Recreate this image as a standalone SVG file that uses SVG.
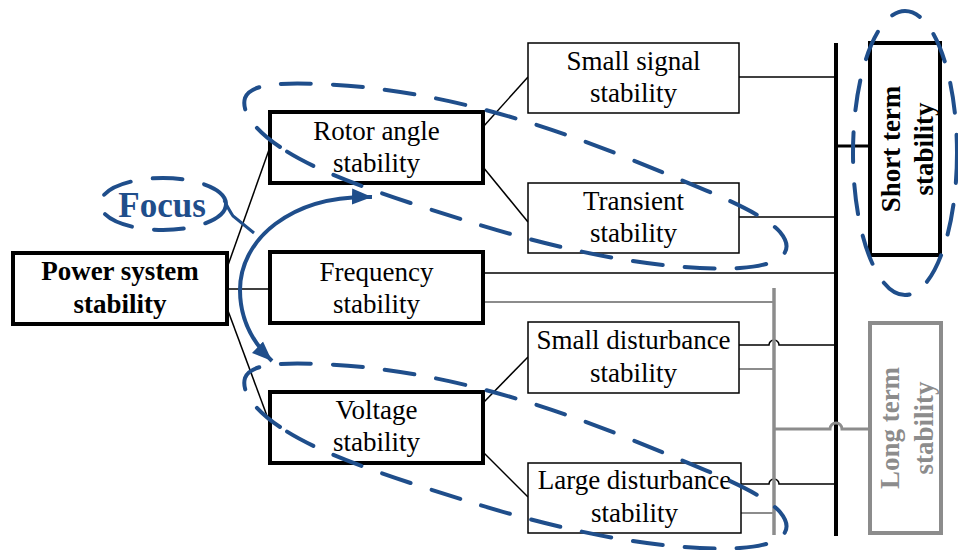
<svg xmlns="http://www.w3.org/2000/svg" width="958" height="550" viewBox="0 0 958 550">
  <style>
    .bx1 { fill: #fff; stroke: #000; stroke-width: 4; }
    .bx2 { fill: #fff; stroke: #000; stroke-width: 1.5; }
    .bxg { fill: #fff; stroke: #8c8c8c; stroke-width: 4; }
    .t { font-family: "Liberation Serif", "Times New Roman", serif; font-size: 27px; text-anchor: middle; fill: #000; }
    .b { font-weight: bold; }
    .g { fill: #8c8c8c; }
    .w { fill: none; stroke: #000; stroke-width: 1.5; }
    .wg { fill: none; stroke: #8c8c8c; stroke-width: 2; }
    .bus { fill: none; stroke: #000; stroke-width: 4; }
    .busg { fill: none; stroke: #8c8c8c; stroke-width: 3.5; }
    .loop { fill: none; stroke: #1f4e8b; stroke-width: 4; stroke-dasharray: 30 22; stroke-linecap: round; }
    .blue { fill: none; stroke: #1f4e8b; stroke-width: 4; }
  </style>
  <defs>
    <marker id="head" markerUnits="userSpaceOnUse" markerWidth="22" markerHeight="22" viewBox="0 0 22 22" refX="20" refY="11" orient="auto-start-reverse">
      <path d="M0,3 L20,11 L0,19 Z" fill="#1f4e8b"/>
    </marker>
  </defs>

  <!-- connectors -->
  <g id="connectors">
    <!-- root to first level -->
    <path class="w" d="M227,268 L270,147"/>
    <path class="w" d="M227,289 L270,289"/>
    <path class="w" d="M227,308 L270,424"/>
    <!-- first level to second level -->
    <path class="w" d="M483,127 L528,77"/>
    <path class="w" d="M483,167 L528,222"/>
    <path class="w" d="M483,403 L528,357"/>
    <path class="w" d="M483,452 L528,497"/>
    <!-- short term bus (black) -->
    <path class="bus" d="M836,43 V536"/>
    <path class="bus" d="M836,146 H870" style="stroke-width:3"/>
    <path class="w" d="M739,77 H836"/>
    <path class="w" d="M739,217 H836"/>
    <path class="w" d="M483,273 H836"/>
    <path class="w" d="M739,345 H769 A5,5 0 0 1 779,345 H836"/>
    <path class="w" d="M741,484 H769 A5,5 0 0 1 779,484 H836"/>
    <!-- long term bus (grey) -->
    <path class="busg" d="M774,288 V535"/>
    <path class="wg" d="M483,302 H774"/>
    <path class="wg" d="M739,369 H774"/>
    <path class="wg" d="M741,513 H774"/>
    <path class="busg" d="M774,429 H830 A6,6 0 0 1 842,429 H870" style="stroke-width:3"/>
  </g>

  <g id="power-system-stability">
    <rect class="bx1" x="13" y="253" width="214" height="71"/>
    <text class="t b" x="120" y="280">Power system</text>
    <text class="t b" x="120" y="313">stability</text>
  </g>

  <g id="rotor-angle-stability">
    <rect class="bx1" x="270" y="112" width="213" height="71"/>
    <text class="t" x="376.5" y="140">Rotor angle</text>
    <text class="t" x="376.5" y="172">stability</text>
  </g>

  <g id="frequency-stability">
    <rect class="bx1" x="270" y="252" width="213" height="71"/>
    <text class="t" x="376.5" y="281">Frequency</text>
    <text class="t" x="376.5" y="313">stability</text>
  </g>

  <g id="voltage-stability">
    <rect class="bx1" x="270" y="392" width="213" height="71"/>
    <text class="t" x="376.5" y="419">Voltage</text>
    <text class="t" x="376.5" y="451">stability</text>
  </g>

  <g id="small-signal-stability">
    <rect class="bx2" x="528" y="43" width="211" height="70"/>
    <text class="t" x="633.5" y="70">Small signal</text>
    <text class="t" x="633.5" y="102">stability</text>
  </g>

  <g id="transient-stability">
    <rect class="bx2" x="528" y="183" width="211" height="70"/>
    <text class="t" x="633.5" y="210">Transient</text>
    <text class="t" x="633.5" y="242">stability</text>
  </g>

  <g id="small-disturbance-stability">
    <rect class="bx2" x="528" y="322" width="211" height="71"/>
    <text class="t" x="633.5" y="349">Small disturbance</text>
    <text class="t" x="633.5" y="382">stability</text>
  </g>

  <g id="large-disturbance-stability">
    <rect class="bx2" x="528" y="463" width="213" height="70"/>
    <text class="t" x="634.5" y="489">Large disturbance</text>
    <text class="t" x="634.5" y="522">stability</text>
  </g>

  <g id="short-term-stability">
    <rect class="bx1" x="870" y="43" width="70" height="212"/>
    <text class="t b" transform="translate(900,149) rotate(-90)">Short term</text>
    <text class="t b" transform="translate(933,149) rotate(-90)">stability</text>
  </g>

  <g id="long-term-stability">
    <rect class="bxg" x="870" y="323" width="71" height="210"/>
    <text class="t b g" transform="translate(899,428) rotate(-90)">Long term</text>
    <text class="t b g" transform="translate(933,428) rotate(-90)">stability</text>
  </g>

  <!-- highlighted groups -->
  <g id="highlights">
    <path id="rotor-loop" class="loop" d="M280,147 C262,135 240,115 245,98 C250,85 275,82 320,84 C420,88 520,115 620,155 C700,188 760,210 780,232 C795,250 785,265 740,268 C660,272 560,250 470,222 C400,200 320,175 280,147 Z"/>
    <path id="voltage-loop" class="loop" d="M280,427 C262,415 240,395 245,378 C250,365 275,362 320,364 C420,368 520,395 620,435 C700,468 760,490 780,512 C795,530 785,545 740,548 C660,552 560,530 470,502 C400,480 320,455 280,427 Z"/>
    <ellipse id="short-loop" class="loop" cx="905" cy="153" rx="52" ry="142"/>
  </g>

  <g id="focus">
    <ellipse class="loop" cx="163" cy="204" rx="63" ry="26"/>
    <path class="blue" d="M224,200 Q229,210 233,216 L254,233" style="stroke-width:3"/>
    <text class="t b" x="162" y="217" style="font-size:35px; fill:#1f4e8b">Focus</text>
    <path class="blue" d="M372,197 C290,195 240,240 240,290 C240,320 252,342 272,361" marker-start="url(#head)" marker-end="url(#head)"/>
  </g>
</svg>
